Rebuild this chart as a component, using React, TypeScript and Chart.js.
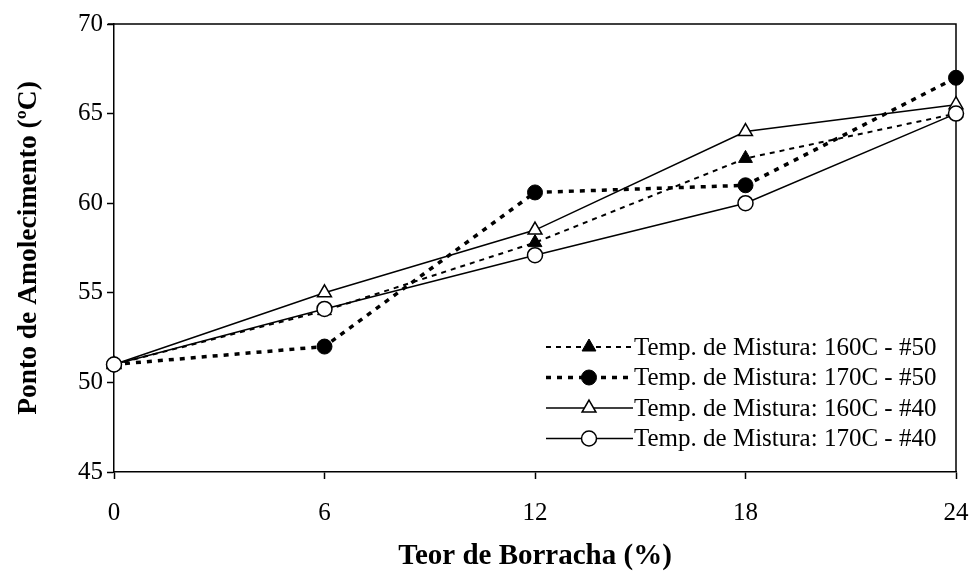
import React, { useEffect, useRef } from 'react';
import { Chart, registerables } from 'chart.js';
import { drawPoint } from 'chart.js/helpers';

Chart.register(...registerables);

const rubberContent = [0, 6, 12, 18, 24];
const mix160_50 = [51, 54, 57.8, 62.5, 65];
const mix170_50 = [51, 52, 60.6, 61, 67];
const mix160_40 = [51, 55, 58.5, 64, 65.5];
const mix170_40 = [51, 54.1, 57.1, 60, 65];
const seriesLabels = [
  'Temp. de Mistura: 160C - #50',
  'Temp. de Mistura: 170C - #50',
  'Temp. de Mistura: 160C - #40',
  'Temp. de Mistura: 170C - #40',
];
const xTickValues = [0, 6, 12, 18, 24];
const yTickValues = [45, 50, 55, 60, 65, 70];
const xTitle = 'Teor de Borracha (%)';
const yTitle = 'Ponto de Amolecimento (\u00BAC)';

const FONT = "'Liberation Serif', 'Times New Roman', serif";

const framePlugin = {
  id: 'frame',
  beforeDatasetsDraw(chart: any) {
    const { ctx, chartArea } = chart;
    ctx.save();
    ctx.strokeStyle = '#000';
    ctx.lineWidth = 1.5;
    ctx.beginPath();
    ctx.moveTo(chartArea.left - 6, chartArea.top);
    ctx.lineTo(chartArea.right, chartArea.top);
    ctx.lineTo(chartArea.right, chartArea.bottom);
    ctx.stroke();
    ctx.restore();
  },
};

const legendPlugin = {
  id: 'insideLegend',
  afterDraw(chart: any) {
    const { ctx } = chart;
    const x0 = 546;
    const x1 = 633;
    const xm = 589;
    const textX = 634;
    const y0 = 347;
    const dy = 30.5;
    ctx.save();
    chart.data.datasets.forEach((ds: any, i: number) => {
      const y = y0 + i * dy;
      ctx.strokeStyle = ds.borderColor;
      ctx.lineWidth = ds.borderWidth;
      ctx.setLineDash(ds.borderDash || []);
      ctx.beginPath();
      ctx.moveTo(x0, y);
      ctx.lineTo(x1, y);
      ctx.stroke();
      ctx.setLineDash([]);
      ctx.fillStyle = ds.pointBackgroundColor;
      ctx.strokeStyle = ds.pointBorderColor;
      ctx.lineWidth = ds.pointBorderWidth;
      drawPoint(ctx, { pointStyle: ds.pointStyle, radius: ds.pointRadius, rotation: 0, borderWidth: ds.pointBorderWidth }, xm, y);
      ctx.fillStyle = '#000';
      ctx.font = `25px ${FONT}`;
      ctx.textBaseline = 'middle';
      ctx.textAlign = 'left';
      ctx.fillText(ds.label, textX, y + 1);
    });
    ctx.restore();
  },
};

export default function App() {
  const ref = useRef<HTMLCanvasElement | null>(null);

  useEffect(() => {
    if (!ref.current) return;
    const mk = (values: number[]) => values.map((v, i) => ({ x: rubberContent[i], y: v }));
    const chart = new Chart(ref.current, {
      type: 'line',
      data: {
        datasets: [
          {
            label: seriesLabels[0],
            data: mk(mix160_50),
            borderColor: '#000',
            borderWidth: 2,
            borderDash: [5, 5],
            pointStyle: 'triangle',
            pointRadius: 8,
            pointBackgroundColor: '#000',
            pointBorderColor: '#000',
            pointBorderWidth: 1,
            clip: false,
            order: 3,
          },
          {
            label: seriesLabels[1],
            data: mk(mix170_50),
            borderColor: '#000',
            borderWidth: 3.5,
            borderDash: [5, 6],
            pointStyle: 'circle',
            pointRadius: 7.5,
            pointBackgroundColor: '#000',
            pointBorderColor: '#000',
            pointBorderWidth: 1,
            clip: false,
            order: 2,
          },
          {
            label: seriesLabels[2],
            data: mk(mix160_40),
            borderColor: '#000',
            borderWidth: 1.5,
            pointStyle: 'triangle',
            pointRadius: 8,
            pointBackgroundColor: '#fff',
            pointBorderColor: '#000',
            pointBorderWidth: 1.5,
            clip: false,
            order: 1,
          },
          {
            label: seriesLabels[3],
            data: mk(mix170_40),
            borderColor: '#000',
            borderWidth: 1.5,
            pointStyle: 'circle',
            pointRadius: 7.5,
            pointBackgroundColor: '#fff',
            pointBorderColor: '#000',
            pointBorderWidth: 1.5,
            clip: false,
            order: 0,
          },
        ] as any,
      },
      options: {
        animation: false,
        responsive: false,
        events: [],
        layout: { padding: { left: 0, right: 16, top: 24, bottom: 0 } },
        plugins: { legend: { display: false }, tooltip: { enabled: false } },
        elements: { line: { tension: 0 } },
        scales: {
          x: {
            type: 'linear',
            min: 0,
            max: 24,
            afterBuildTicks: (scale: any) => {
              scale.ticks = xTickValues.map((v) => ({ value: v }));
            },
            afterFit: (scale: any) => {
              scale.height = 99;
              scale.paddingLeft = 0;
              scale.paddingRight = 0;
            },
            grid: { drawOnChartArea: false, drawTicks: true, tickLength: 7, color: '#000', tickWidth: 1.5 },
            border: { display: true, color: '#000', width: 1.5 },
            ticks: { color: '#000', font: { family: FONT, size: 25 }, padding: 19, maxRotation: 0 },
            title: {
              display: true,
              text: xTitle,
              color: '#000',
              font: { family: FONT, size: 29, weight: 'bold', lineHeight: 1 },
              padding: { top: 0, bottom: 0 },
            },
          },
          y: {
            type: 'linear',
            min: 45,
            max: 70,
            afterBuildTicks: (scale: any) => {
              scale.ticks = yTickValues.map((v) => ({ value: v }));
            },
            afterFit: (scale: any) => {
              scale.width = 114;
              scale.paddingTop = 0;
              scale.paddingBottom = 0;
            },
            grid: { drawOnChartArea: false, drawTicks: true, tickLength: 7, color: '#000', tickWidth: 1.5 },
            border: { display: true, color: '#000', width: 1.5 },
            ticks: { color: '#000', font: { family: FONT, size: 25 }, padding: 4 },
            title: {
              display: true,
              text: yTitle,
              color: '#000',
              font: { family: FONT, size: 27.5, weight: 'bold' },
              padding: { top: 12, bottom: 0 },
            },
          },
        },
      } as any,
      plugins: [framePlugin, legendPlugin],
    });
    return () => chart.destroy();
  }, []);

  return (
    <canvas
      ref={ref}
      width={972}
      height={571}
      style={{ position: 'absolute', left: 0, top: 0, width: 972, height: 571, background: '#fff' }}
    />
  );
}
